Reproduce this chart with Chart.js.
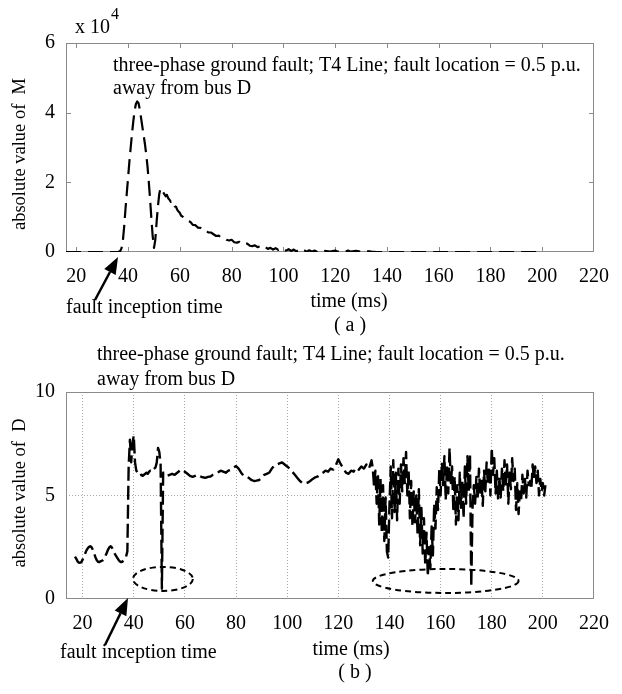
<!DOCTYPE html>
<html>
<head>
<meta charset="utf-8">
<script src="https://cdn.jsdelivr.net/npm/chart.js@4.4.0/dist/chart.umd.min.js"></script>
<style>
html,body{margin:0;padding:0;background:#fff;}
#wrap{position:relative;width:622px;height:694px;overflow:hidden;background:#fff;}
canvas{position:absolute;left:0;}
</style>
</head>
<body>
<div id="wrap">
<canvas id="cM" width="622" height="340" style="top:0px"></canvas>
<canvas id="cD" width="622" height="354" style="top:340px"></canvas>
</div>
<script>
// ---------- tick labels ----------
const xTickLabels = [20, 40, 60, 80, 100, 120, 140, 160, 180, 200, 220];
const mTickLabels = [0, 2, 4, 6];
const dTickLabels = [0, 5, 10];

// ---------- (a) absolute value of M (x 10^4) ----------
const mTime = [16, 36, 36.5, 37, 37.5, 38, 38.5, 39, 39.5, 40,
  40.5, 41, 41.5, 42, 42.5, 43, 43.5, 44, 44.5, 45,
  45.5, 46, 46.5, 47, 47.5, 48, 48.5, 49, 49.5, 50,
  50.5, 51, 51.5, 52, 52.5, 53, 53.5, 54, 54.5, 55,
  55.5, 56, 56.5, 57, 57.5, 58, 58.5, 59, 59.5, 60,
  60.5, 61, 61.5, 62, 63, 64, 65, 66, 67, 68,
  69, 70, 71, 72, 73, 74, 75, 76, 77, 78,
  79, 80, 81, 82, 83, 84, 85, 86, 87, 88,
  89, 90, 91, 92, 93, 94, 95, 96, 97, 98,
  99, 100, 101, 102, 103, 104, 105, 106, 107, 108,
  109, 110, 111, 112, 113, 114, 115, 116, 118, 120,
  121, 122, 124, 125, 126, 128, 130, 132, 134, 136,
  200];
const mValue = [0, 0, 0.01, 0.03, 0.12, 0.35, 0.75, 1.25, 1.7, 2.15,
  2.6, 3.0, 3.4, 3.75, 4.05, 4.25, 4.32, 4.28, 4.1, 3.85,
  3.6, 3.35, 3.1, 2.8, 2.45, 2.0, 1.5, 0.95, 0.45, 0.12,
  0.35, 0.85, 1.3, 1.65, 1.83, 1.76, 1.72, 1.66, 1.6, 1.64,
  1.54, 1.5, 1.44, 1.47, 1.37, 1.31, 1.3, 1.21, 1.16, 1.12,
  1.04, 1.02, 0.97, 0.95, 0.89, 0.87, 0.78, 0.77, 0.7, 0.69,
  0.62, 0.62, 0.56, 0.56, 0.51, 0.46, 0.47, 0.41, 0.4, 0.35,
  0.33, 0.35, 0.28, 0.27, 0.29, 0.23, 0.22, 0.24, 0.18, 0.17,
  0.19, 0.14, 0.16, 0.11, 0.14, 0.09, 0.12, 0.07, 0.11, 0.06,
  0.1, 0.05, 0.04, 0.08, 0.03, 0.07, 0.02, 0.06, 0.02, 0.05,
  0.01, 0.05, 0.01, 0.04, 0.01, 0.04, 0.01, 0.03, 0.01, 0.04,
  0.01, 0.03, 0.01, 0.04, 0.01, 0.03, 0.01, 0.03, 0.01, 0,
  0];

// ---------- (b) absolute value of D ----------
const dTime = [17, 17.5, 18, 18.5, 19, 19.5, 20, 20.5, 21, 21.5,
  22, 22.5, 23, 23.5, 24, 24.5, 25, 25.5, 26, 26.5,
  27, 27.5, 28, 28.5, 29, 29.5, 30, 30.5, 31, 31.5,
  32, 32.5, 33, 33.5, 34, 34.5, 35, 35.5, 36, 36.5,
  37, 37.5, 38, 38.5, 39, 39.5, 40, 40.5, 41, 41.5,
  42, 42.5, 43, 43.5, 44, 44.5, 45, 45.5, 46, 46.5,
  47, 47.5, 48, 48.5, 49, 49.5, 50, 50.5, 51, 51.5,
  52, 53, 54, 55, 56, 57, 58, 59, 60, 61,
  62, 63, 64, 65, 66, 67, 68, 69, 70, 71,
  72, 73, 74, 75, 76, 77, 78, 79, 80, 81,
  82, 83, 84, 85, 86, 87, 88, 89, 90, 91,
  92, 93, 94, 95, 96, 97, 98, 99, 100, 101,
  102, 103, 104, 105, 106, 107, 108, 109, 110, 111,
  112, 113, 114, 115, 116, 117, 118, 119, 120, 121,
  122, 123, 124, 125, 126, 127, 128, 129, 130, 131,
  132, 133, 133.5,
  134, 134.5, 135, 135.5, 136, 136.5, 137, 137.5, 138, 138.5,
  139, 139.5, 140, 140.5, 141, 141.5, 142, 142.5, 143, 143.5,
  144, 144.5, 145, 145.5, 146, 146.5, 147, 147.5, 148, 148.5,
  149, 149.5, 150, 150.5, 151, 151.5, 152, 152.5, 153, 153.5,
  154, 154.5, 155, 155.5, 156, 156.5, 157, 157.5, 158, 158.5,
  159, 159.5, 160, 160.5, 161, 161.5, 162, 162.5, 163, 163.5,
  164, 164.5, 165, 165.5, 166, 166.5, 167, 167.5, 168, 168.5,
  169, 169.5, 170, 170.5, 171, 171.5, 172, 172.5, 173, 173.5,
  174, 174.5, 175, 175.5, 176, 176.5, 177, 177.5, 178, 178.5,
  179, 179.5, 180, 180.5, 181, 181.5, 182, 182.5, 183, 183.5,
  184, 184.5, 185, 185.5, 186, 186.5, 187, 187.5, 188, 188.5,
  189, 189.5, 190, 190.5, 191, 191.5, 192, 192.5, 193, 193.5,
  194, 194.5, 195, 195.5, 196, 196.5, 197, 197.5, 198, 198.5,
  199, 199.5, 200, 200.5, 201];
const dValue = [2.05, 1.95, 1.82, 1.76, 1.75, 1.78, 1.9, 2.05, 2.2, 2.35,
  2.45, 2.52, 2.55, 2.5, 2.38, 2.2, 2.02, 1.88, 1.8, 1.78,
  1.82, 1.85, 1.88, 1.95, 2.1, 2.25, 2.4, 2.5, 2.55, 2.48,
  2.35, 2.2, 2.1, 2.0, 1.9, 1.82, 1.78, 1.8, 1.85, 1.95,
  2.05, 2.3, 6.4, 7.7, 6.6, 7.5, 7.9, 6.6, 6.2, 6.1,
  6.0, 5.95, 6.0, 5.95, 6.0, 6.05, 6.1, 6.05, 6.15, 6.2,
  6.15, 6.25, 6.3, 6.35, 6.6, 7.3, 7.1, 6.5, 0.5, 6.1,
  6.1, 5.95, 6.0, 6.05, 6.0, 6.1, 6.2, 6.25, 6.15, 6.05,
  5.95, 5.9, 5.95, 6.0, 5.92, 5.88, 5.85, 5.9, 5.92, 6.0,
  6.05, 6.12, 6.2, 6.15, 6.1, 6.2, 6.25, 6.35, 6.42, 6.3,
  6.1, 5.95, 5.9, 5.85, 5.75, 5.7, 5.72, 5.75, 5.85, 6.0,
  6.05, 6.1, 6.3, 6.45, 6.5, 6.55, 6.6, 6.5, 6.4, 6.3,
  6.15, 6.0, 5.85, 5.7, 5.6, 5.58, 5.62, 5.7, 5.8, 5.88,
  5.92, 6.0, 6.1, 6.2, 6.15, 6.3, 6.25, 6.45, 6.75, 6.5,
  6.3, 6.1, 6.05, 6.2, 6.15, 6.35, 6.25, 6.4, 6.3, 6.5,
  6.3, 6.7, 6.3,
  5.4, 6.2, 4.6, 6.0, 3.6, 5.8, 3.2, 5.5, 2.8, 4.9,
  2.3, 2.0, 4.5, 6.4, 3.9, 6.7, 4.2, 6.1, 3.8, 6.3,
  4.6, 6.5, 5.2, 6.8, 5.6, 7.1, 5.0, 6.2, 3.9, 5.7,
  3.5, 5.2, 3.7, 5.0, 3.1, 5.3, 2.6, 4.4, 2.2, 3.9,
  1.6, 3.2, 1.1, 2.5, 1.5, 3.5, 2.1, 4.6, 3.4, 5.4,
  4.3, 6.3, 5.0, 6.6, 5.5, 6.9, 4.8, 6.5, 5.1, 7.3,
  5.6, 6.4, 4.2, 5.9, 3.6, 5.5, 3.8, 6.1, 4.4, 5.7,
  3.9, 6.4, 4.6, 6.9, 5.2, 7.0, 0.6, 4.4, 5.5, 4.6,
  5.9, 4.8, 6.3, 5.0, 5.8, 4.5, 6.2, 5.2, 6.6, 5.5,
  6.4, 5.0, 7.3, 6.0, 6.8, 5.1, 6.2, 4.8, 5.9, 4.9,
  6.3, 5.2, 6.7, 5.4, 6.5, 4.6, 6.1, 5.3, 6.8, 5.7,
  6.3, 4.3, 5.6, 4.1, 5.2, 4.8, 6.0, 5.1, 5.8, 4.9,
  6.2, 5.5, 5.7, 5.3, 6.5, 5.8, 6.4, 5.6, 6.2, 5.0,
  5.8, 5.2, 5.6, 5.0, 5.5];

// ---------- annotation marks (dashed ellipses around the dips) ----------
const dipEllipses = [
  { t: 51.4, v: 0.97, halfT: 11.7, halfV: 0.58 },
  { t: 162, v: 0.87, halfT: 28.5, halfV: 0.58 }
];

const SERIF = '"Liberation Serif", "Times New Roman", Times, serif';
const FRAME = '#8a8a8a';

function drawText(ctx, t) {
  ctx.save();
  ctx.font = (t.size || 20) + 'px ' + SERIF;
  ctx.fillStyle = '#000';
  ctx.textAlign = t.align || 'left';
  ctx.textBaseline = 'middle';
  if (t.rotate) {
    ctx.translate(t.x, t.y);
    ctx.rotate(-Math.PI / 2);
    ctx.fillText(t.text, 0, 0);
  } else {
    ctx.fillText(t.text, t.x, t.y);
  }
  ctx.restore();
}

function drawArrow(ctx, x0, y0, x1, y1) {
  const ang = Math.atan2(y1 - y0, x1 - x0);
  const hl = 17, hw = 6.5;
  const bx = x1 - hl * Math.cos(ang), by = y1 - hl * Math.sin(ang);
  ctx.save();
  ctx.setLineDash([]);
  ctx.strokeStyle = '#000';
  ctx.lineWidth = 2.5;
  ctx.beginPath();
  ctx.moveTo(x0, y0);
  ctx.lineTo(bx, by);
  ctx.stroke();
  ctx.beginPath();
  ctx.moveTo(x1, y1);
  ctx.lineTo(bx + hw * Math.sin(ang), by - hw * Math.cos(ang));
  ctx.lineTo(bx - hw * Math.sin(ang), by + hw * Math.cos(ang));
  ctx.closePath();
  ctx.fillStyle = '#000';
  ctx.fill();
  ctx.restore();
}

function makeDecor(cfg) {
  return {
    id: 'decor',
    beforeDatasetsDraw(chart) {
      const { ctx, chartArea: a, scales } = chart;
      ctx.save();
      ctx.setLineDash([]);
      ctx.strokeStyle = FRAME;
      ctx.lineWidth = 1;
      const l = Math.round(a.left), t = Math.round(a.top), r = Math.round(a.right), b = Math.round(a.bottom);
      ctx.strokeRect(l + 0.5, t + 0.5, r - l - 1, b - t - 1);
      if (cfg.inwardTicks) {
        const L = 5;
        ctx.beginPath();
        scales.x.ticks.forEach(tk => {
          const px = Math.round(scales.x.getPixelForValue(tk.value)) + 0.5;
          if (px > l + 2 && px < r - 2) {
            ctx.moveTo(px, b); ctx.lineTo(px, b - L);
            ctx.moveTo(px, t); ctx.lineTo(px, t + L);
          }
        });
        scales.y.ticks.forEach(tk => {
          const py = Math.round(scales.y.getPixelForValue(tk.value)) + 0.5;
          if (py > t + 2 && py < b - 2) {
            ctx.moveTo(l, py); ctx.lineTo(l + L, py);
            ctx.moveTo(r, py); ctx.lineTo(r - L, py);
          }
        });
        ctx.stroke();
      }
      ctx.restore();
    },
    afterDraw(chart) {
      const { ctx, scales } = chart;
      if (cfg.ellipses) {
        ctx.save();
        ctx.strokeStyle = '#000';
        ctx.lineWidth = 2;
        ctx.setLineDash([6, 4]);
        cfg.ellipses.forEach(e => {
          const cx = scales.x.getPixelForValue(e.t);
          const cy = scales.y.getPixelForValue(e.v);
          const rx = Math.abs(scales.x.getPixelForValue(e.t + e.halfT) - cx);
          const ry = Math.abs(scales.y.getPixelForValue(e.v + e.halfV) - cy);
          ctx.beginPath();
          ctx.ellipse(cx, cy, rx, ry, 0, 0, Math.PI * 2);
          ctx.stroke();
        });
        ctx.restore();
      }
      cfg.texts.forEach(t => drawText(ctx, t));
      cfg.arrows.forEach(a => drawArrow(ctx, a[0], a[1], a[2], a[3]));
    }
  };
}

function buildChart(canvasId, opt) {
  const data = opt.time.map((t, i) => ({ x: t, y: opt.value[i] }));
  return new Chart(document.getElementById(canvasId), {
    type: 'line',
    data: {
      datasets: [{
        data: data,
        borderColor: '#000',
        borderWidth: opt.lineWidth,
        borderDash: opt.dash,
        borderJoinStyle: 'round',
        pointRadius: 0,
        tension: 0,
        fill: false
      }]
    },
    options: {
      responsive: false,
      animation: false,
      devicePixelRatio: 1,
      layout: { padding: { left: 0, top: opt.padTop, right: opt.padRight, bottom: 0 } },
      plugins: { legend: { display: false }, tooltip: { enabled: false }, title: { display: false } },
      scales: {
        x: {
          type: 'linear',
          min: opt.xMin,
          max: 220,
          afterBuildTicks: s => { s.ticks = xTickLabels.map(v => ({ value: v })); },
          afterFit: s => { s.height = opt.xAxisHeight; },
          grid: {
            display: opt.grid,
            drawTicks: false,
            lineWidth: 1,
            color: c => (c.tick && c.tick.value === 220) ? 'rgba(0,0,0,0)' : '#a8a8a8'
          },
          border: { display: false, dash: [1, 2] },
          ticks: {
            font: { family: SERIF, size: 20 },
            color: '#000',
            padding: 13,
            maxRotation: 0,
            minRotation: 0,
            autoSkip: false
          }
        },
        y: {
          type: 'linear',
          min: opt.yMin,
          max: opt.yMax,
          afterBuildTicks: s => { s.ticks = opt.yTicks.map(v => ({ value: v })); },
          afterFit: s => { s.width = 66; },
          grid: {
            display: opt.grid,
            drawTicks: false,
            lineWidth: 1,
            color: c => (c.tick && (c.tick.value === opt.yMin || c.tick.value === opt.yMax)) ? 'rgba(0,0,0,0)' : '#a8a8a8'
          },
          border: { display: false, dash: [1, 2] },
          ticks: {
            font: { family: SERIF, size: 20 },
            color: '#000',
            padding: 11,
            autoSkip: false
          }
        }
      }
    },
    plugins: [makeDecor(opt.decor)]
  });
}

buildChart('cM', {
  time: mTime, value: mValue,
  xMin: 16, yMin: 0, yMax: 6, yTicks: mTickLabels,
  padTop: 43, padRight: 23, xAxisHeight: 88, grid: false,
  lineWidth: 2.2, dash: [15, 7],
  decor: {
    inwardTicks: true,
    texts: [
      { text: 'x 10', x: 75, y: 28 },
      { text: '4', x: 111, y: 15, size: 16 },
      { text: 'three-phase ground fault; T4 Line; fault location = 0.5 p.u.', x: 113, y: 66 },
      { text: 'away from bus D', x: 113, y: 89 },
      { text: 'absolute value of  M', x: 20, y: 154, rotate: true, align: 'center', size: 18.5 },
      { text: 'time (ms)', x: 349, y: 302, align: 'center' },
      { text: '( a )', x: 350, y: 326, align: 'center' },
      { text: 'fault inception time', x: 66, y: 308 }
    ],
    arrows: [[95, 300, 118, 257]]
  }
});

buildChart('cD', {
  time: dTime, value: dValue,
  xMin: 13.5, yMin: 0, yMax: 10, yTicks: dTickLabels,
  padTop: 52, padRight: 19, xAxisHeight: 95, grid: true,
  lineWidth: 2.4, dash: [14, 5],
  decor: {
    inwardTicks: false,
    ellipses: dipEllipses,
    texts: [
      { text: 'three-phase ground fault; T4 Line; fault location = 0.5 p.u.', x: 97, y: 15 },
      { text: 'away from bus D', x: 97, y: 40 },
      { text: 'absolute value of  D', x: 20, y: 153, rotate: true, align: 'center', size: 18.5 },
      { text: 'time (ms)', x: 351, y: 310, align: 'center' },
      { text: '( b )', x: 355, y: 333, align: 'center' },
      { text: 'fault inception time', x: 60, y: 313 }
    ],
    arrows: [[105, 305, 128, 258]]
  }
});
</script>
</body>
</html>
